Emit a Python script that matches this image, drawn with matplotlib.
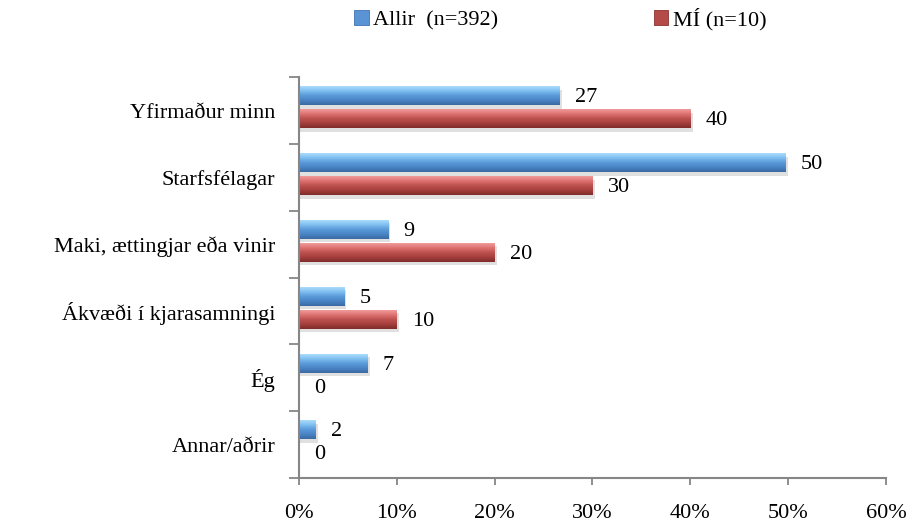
import numpy as np
import matplotlib
matplotlib.use("Agg")
import matplotlib.pyplot as plt
from matplotlib.colors import LinearSegmentedColormap
from matplotlib.patches import Rectangle

categories = ["Yfirmaður minn", "Starfsfélagar", "Maki, ættingjar eða vinir",
              "Ákvæði í kjarasamningi", "Ég", "Annar/aðrir"]
allir = [26.6, 49.7, 9.1, 4.6, 7.0, 1.7]
mi = [40, 30, 20, 10, 0, 0]
series_names = ["Allir  (n=392)", "MÍ (n=10)"]
xticks = [0, 10, 20, 30, 40, 50, 60]

plt.rcParams["font.family"] = ["Liberation Serif", "DejaVu Serif"]
FS = 16

blue_cmap = LinearSegmentedColormap.from_list(
    "b", ["#b4e2fd", "#86c4f3", "#5c9ddc", "#4a85c6", "#3a6aa3"])
red_cmap = LinearSegmentedColormap.from_list(
    "r", ["#f4a3a3", "#e27878", "#c05452", "#a6403e", "#7f2c2a"])
grad = np.linspace(0, 1, 64).reshape(-1, 1)

fig = plt.figure(figsize=(9.11, 5.29), dpi=100)
ax = fig.add_axes([0.328, 0.0964, 0.6446, 0.7576])

h = 0.285
y = np.arange(len(categories))


def draw_bars(vals, yoff, cmap):
    for yi, v in zip(y, vals):
        yc = yi + yoff
        if v <= 0:
            continue
        # soft shadow under the bar
        ax.add_patch(Rectangle((0, yc - h / 2 + 0.05), v + 0.25, h, color="#000000",
                               alpha=0.12, lw=0, zorder=1))
        rect = Rectangle((0, yc - h / 2), v, h, facecolor="none", lw=0, zorder=2)
        ax.add_patch(rect)
        im = ax.imshow(grad, cmap=cmap, aspect="auto", origin="upper",
                       extent=(0, v, yc + h / 2, yc - h / 2), zorder=2,
                       interpolation="bilinear")
        im.set_clip_path(rect)
    for yi, v in zip(y, vals):
        ax.text(v + 1.6, yi + yoff + 0.03, f"{v:.0f}", va="center", ha="left", fontsize=FS)


draw_bars(allir, -0.22, blue_cmap)
draw_bars(mi, 0.125, red_cmap)

ax.set_xlim(0, 60)
ax.set_ylim(len(categories) - 0.5, -0.5)

ax.set_xticks(xticks)
ax.set_xticklabels([f"{t}%" for t in xticks], fontsize=FS)
ax.set_yticks(y)
ax.set_yticklabels(categories, fontsize=FS)
ax.set_yticks(np.arange(len(categories) + 1) - 0.5, minor=True)
ax.tick_params(axis="y", which="major", length=0, pad=17)
ax.tick_params(axis="y", which="minor", length=7, width=1.3, color="#868686")
ax.tick_params(axis="x", length=5, width=1.3, color="#868686", pad=14)

for s in ["top", "right"]:
    ax.spines[s].set_visible(False)
for s in ["left", "bottom"]:
    ax.spines[s].set_color("#868686")
    ax.spines[s].set_linewidth(1.5)

handles = [Rectangle((0, 0), 1, 1, facecolor="#5a94d4", edgecolor="#3f74b5", lw=0.6),
           Rectangle((0, 0), 1, 1, facecolor="#b54b49", edgecolor="#8a3331", lw=0.6)]
fig.legend(handles, series_names, loc="center", bbox_to_anchor=(0.615, 0.964),
           ncol=2, frameon=False, fontsize=FS, handlelength=0.65, handleheight=0.65,
           handletextpad=0.2, columnspacing=7.0)

fig.savefig("out.png", dpi=100)
